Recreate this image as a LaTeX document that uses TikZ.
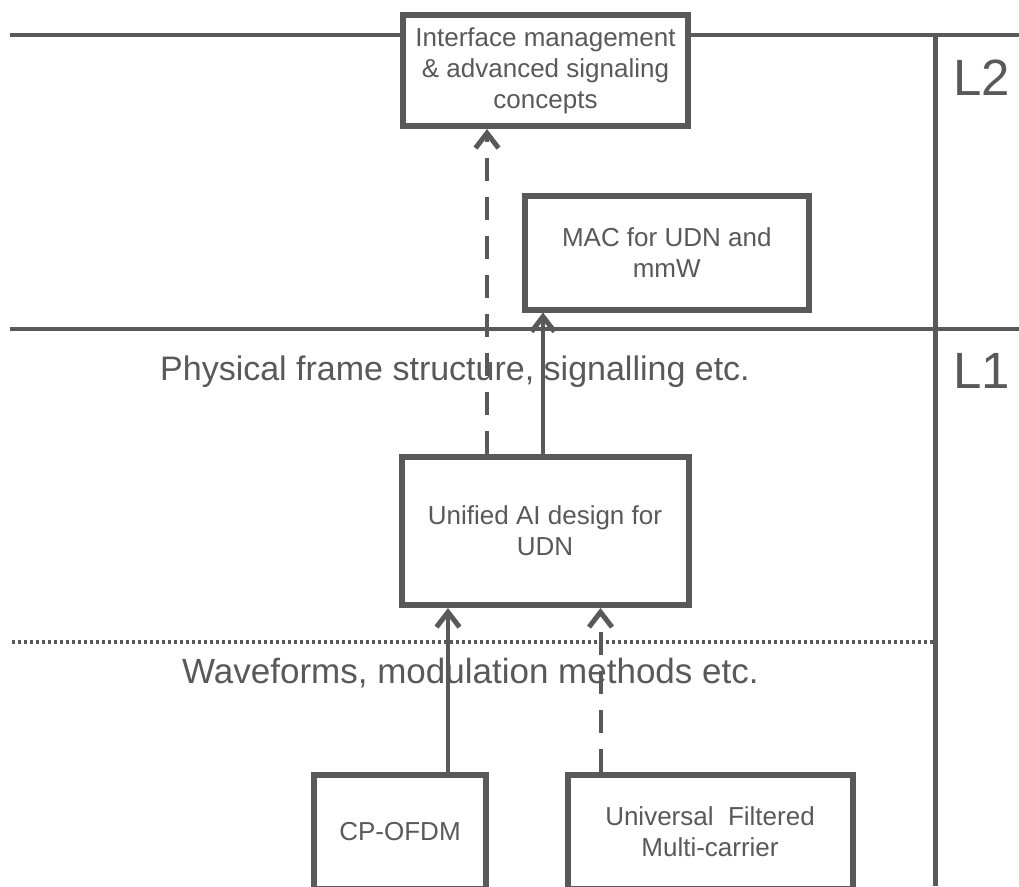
\documentclass[tikz,border=0pt]{standalone}
\usepackage{fontspec}
\setmainfont{Liberation Sans}
\usetikzlibrary{arrows.meta}
\definecolor{ln}{RGB}{89,89,89}
\definecolor{tx}{RGB}{89,89,89}
\begin{document}
\begin{tikzpicture}[x=1pt,y=-1pt,
  box/.style={draw=ln, line width=6pt, inner sep=0pt, align=center, text=tx, font=\fontsize{26}{31}\selectfont, fill=white},
  rule/.style={draw=ln, line width=4pt},
  conn/.style={draw=ln, line width=4pt, -{Straight Barb[length=15pt,width=23pt,line width=5pt]}},
  dashconn/.style={conn, dash pattern=on 23pt off 16pt},
  layer/.style={text=tx, font=\fontsize{34}{40}\selectfont, anchor=base west, inner sep=0pt},
  lev/.style={text=tx, font=\fontsize{51}{60}\selectfont, anchor=base west, inner sep=0pt}]
\useasboundingbox (0,0) rectangle (1019,886);
\clip (0,0) rectangle (1019,886);
\fill[white] (0,0) rectangle (1019,886);

% text labels
\node[layer] (phy) at (160,380) {Physical frame structure, signalling etc.};
\node[layer, font=\fontsize{35}{40}\selectfont] (wav) at (182,683) {Waveforms, modulation methods etc.};
\node[lev] (L2) at (953,95) {L2};
\node[lev] (L1) at (953,388) {L1};

% boxes
\node[box, minimum width=285pt, minimum height=111pt] (T) at (545.5,70.5) {Interface management\\ \& advanced signaling\\ concepts};
\node[box, minimum width=283.5pt, minimum height=113.5pt] (M) at (666.75,252.75) {MAC for UDN and\\ mmW};
\node[box, minimum width=287pt, minimum height=148.5pt] (U) at (545,530.75) {Unified AI design for\\ UDN};
\node[box, minimum width=171.5pt, minimum height=114pt] (C) at (400,832) {CP-OFDM};
\node[box, minimum width=285pt, minimum height=114pt] (F) at (710,832) {Universal\ \ Filtered\\ Multi-carrier};

% layer rules
\coordinate (l2L) at (10,35);
\coordinate (l2R) at (1019,35);
\draw[rule] (l2L) -- (T.west |- l2L);
\draw[rule] (T.east |- l2R) -- (l2R);
\coordinate (l1L) at (10,328.5);
\coordinate (l1R) at (1019,328.5);
\draw[rule] (l1L) -- (l1R);
\coordinate (vT) at (935.5,33);
\coordinate (vB) at (935.5,886);
\draw[rule, line width=5pt] (vT) -- (vB);
\coordinate (dL) at (12,642);
\coordinate (dR) at (933,642);
\draw[draw=ln, line width=3.5pt, dash pattern=on 3pt off 3pt] (dL) -- (dR);

% connectors
\coordinate (a1) at (487,0);
\coordinate (a2) at (543,0);
\coordinate (a3) at (448,0);
\coordinate (a4) at (600.5,0);
\draw[dashconn] (U.north -| a1) -- (T.south -| a1);
\draw[conn] (U.north -| a2) -- (M.south -| a2);
\draw[conn] (C.north -| a3) -- (U.south -| a3);
\draw[dashconn] (F.north -| a4) -- (U.south -| a4);
\end{tikzpicture}
\end{document}
